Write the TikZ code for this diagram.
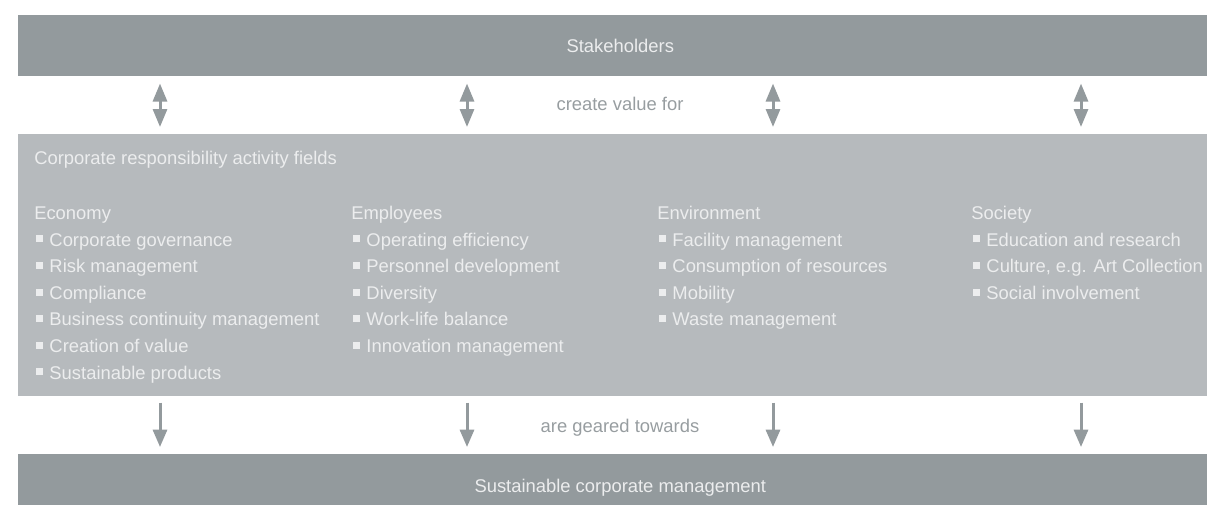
\documentclass[tikz,border=0pt]{standalone}
\usepackage{fontspec}
\setmainfont{Liberation Sans}
\usetikzlibrary{arrows.meta}
\definecolor{slate}{HTML}{939A9D}
\definecolor{mist}{HTML}{B6BABD}
\definecolor{paper}{HTML}{ECEDEE}
\definecolor{ink}{HTML}{979DA0}

\begin{document}
\begin{tikzpicture}[
    x=0.75pt, y=-0.75pt,
    copy/.style={
        inner sep=0pt,
        font=\fontsize{13.8pt}{16pt}\selectfont,
    },
    bar/.style={
        copy,
        fill=slate,
        text=paper,
        minimum width=903pt,
        anchor=north west,
    },
    field/.style={
        fill=mist,
        minimum width=903pt,
        minimum height=196.5pt,
        inner sep=0pt,
        anchor=north west,
    },
    txt/.style={
        copy,
        text=paper,
        anchor=base west,
    },
    item/.style={
        txt,
        execute at begin node={\hspace*{1.2pt}\rule[2.7pt]{5.3pt}{5.3pt}\hspace{4.9pt}},
    },
    note/.style={
        copy,
        text=ink,
        anchor=base,
    },
    twoway/.style={
        draw=slate,
        line width=2.25pt,
        {Triangle[width=10.5pt,length=13.5pt]}-{Triangle[width=10.5pt,length=13.5pt]},
        shorten <=5.25pt,
        shorten >=5.25pt,
    },
    oneway/.style={
        draw=slate,
        line width=2.25pt,
        -{Triangle[width=10.5pt,length=13pt]},
        shorten <=4.5pt,
        shorten >=5.25pt,
    },
]

\useasboundingbox (0,0) rectangle (1207,504);
\clip (0,0) rectangle (1207,504);

% bars
\node[bar, minimum height=45.75pt] (stake) at (18,15) {Stakeholders};
\node[field] (fields) at (18,134) {};
\node[bar, minimum height=49.5pt] (manage) at (18,454) {Sustainable corporate management};

% columns
\coordinate (c1) at (160,0);
\coordinate (c2) at (467,0);
\coordinate (c3) at (773,0);
\coordinate (c4) at (1081,0);

\node[note] (create) at (620,110) {create value for};
\node[note] (geared) at (620,432) {are geared towards};

\draw[twoway] (stake.south -| c1) -- (fields.north -| c1);
\draw[twoway] (stake.south -| c2) -- (fields.north -| c2);
\draw[twoway] (stake.south -| c3) -- (fields.north -| c3);
\draw[twoway] (stake.south -| c4) -- (fields.north -| c4);

\draw[oneway] (fields.south -| c1) -- (manage.north -| c1);
\draw[oneway] (fields.south -| c2) -- (manage.north -| c2);
\draw[oneway] (fields.south -| c3) -- (manage.north -| c3);
\draw[oneway] (fields.south -| c4) -- (manage.north -| c4);

% activity fields
\node[txt] (title) at (34,164) {Corporate responsibility activity fields};

\node[txt] (econ) at (34,219) {Economy};
\node[item] (econ1) at (34,246) {Corporate governance};
\node[item] (econ2) at (34,272.6) {Risk management};
\node[item] (econ3) at (34,299.2) {Compliance};
\node[item] (econ4) at (34,325.8) {Business continuity management};
\node[item] (econ5) at (34,352.4) {Creation of value};
\node[item] (econ6) at (34,379) {Sustainable products};

\node[txt] (staff) at (351,219) {Employees};
\node[item] (staff1) at (351,246) {Operating efficiency};
\node[item] (staff2) at (351,272.6) {Personnel development};
\node[item] (staff3) at (351,299.2) {Diversity};
\node[item] (staff4) at (351,325.8) {Work-life balance};
\node[item] (staff5) at (351,352.4) {Innovation management};

\node[txt] (env) at (657,219) {Environment};
\node[item] (env1) at (657,246) {Facility management};
\node[item] (env2) at (657,272.6) {Consumption of resources};
\node[item] (env3) at (657,299.2) {Mobility};
\node[item] (env4) at (657,325.8) {Waste management};

\node[txt] (soc) at (971,219) {Society};
\node[item] (soc1) at (971,246) {Education and research};
\node[item] (soc2) at (971,272.6) {Culture, e.g. Art Collection};
\node[item] (soc3) at (971,299.2) {Social involvement};

\end{tikzpicture}
\end{document}
